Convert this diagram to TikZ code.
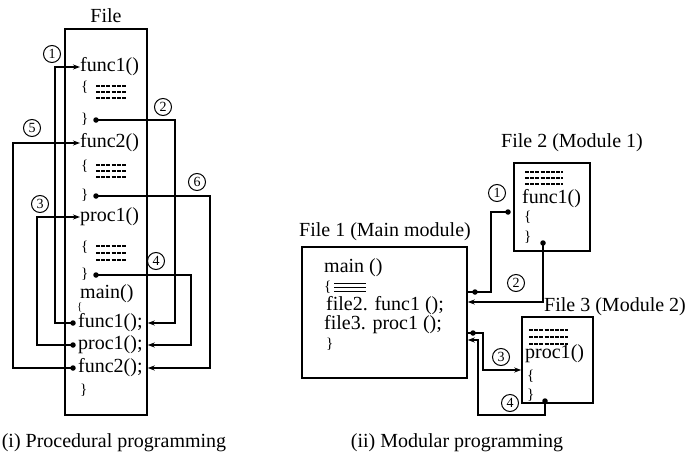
\documentclass[tikz,border=0pt]{standalone}
\usepackage{fontspec}
\setmainfont{Liberation Serif}
\usetikzlibrary{arrows.meta}
\begin{document}
\begin{tikzpicture}[x=1pt,y=-1pt,
  txt/.style={anchor=west,inner sep=0pt,font=\fontsize{20}{22}\selectfont},
  lbl/.style={inner sep=0pt,font=\fontsize{20}{22}\selectfont},
  brc/.style={anchor=west,inner sep=0pt,font=\fontsize{15}{16}\selectfont},
  num/.style={circle,draw,line width=1pt,inner sep=0pt,minimum size=17pt,font=\fontsize{14}{14}\selectfont},
  dot/.style={circle,fill,inner sep=0pt,minimum size=5.5pt},
  conn/.style={line width=1.3pt},
  arr/.style={conn,-{Stealth[length=7pt,width=5pt]}},
  filebox/.style={draw,line width=1.5pt,inner sep=0pt},
  eqline/.style={line width=1.1pt,dash pattern=on 4pt off 1.2pt}]
\useasboundingbox (0,0) rectangle (687,460);

% ---------------- (i) Procedural programming ----------------
\node[filebox,minimum width=82pt,minimum height=386pt] (F) at (106,222) {};
\node[lbl] (Flbl) at (106,16) {File};

\node[txt] (f1) at (80,67) {func1()};
\node[brc] at (81,87) {\{};
\foreach \y in {86,92,98} \draw[eqline] (96,\y) -- (127,\y);
\node[brc] (e1) at (81,119) {\}};
\node[dot] (d2) at (96,120) {};

\node[txt] (f2) at (80,143) {func2()};
\node[brc] at (81,166) {\{};
\foreach \y in {165,171,177} \draw[eqline] (96,\y) -- (127,\y);
\node[brc] (e2) at (81,195) {\}};
\node[dot] (d6) at (96,196) {};

\node[txt] (p1) at (80,217) {proc1()};
\node[brc] at (81,247) {\{};
\foreach \y in {246,253,260} \draw[eqline] (96,\y) -- (127,\y);
\node[brc] (e3) at (81,274) {\}};
\node[dot] (d4) at (96,275) {};

\node[txt] (mn) at (80,294) {main()};
\node[brc,font=\fontsize{11}{12}\selectfont] at (77,307) {\{};
\node[txt] (c1) at (78,323) {func1();};
\node[txt] (c2) at (78,345) {proc1();};
\node[txt] (c3) at (78,368) {func2();};
\node[brc] at (80,390) {\}};
\node[dot] (s1) at (73,323) {};
\node[dot] (s3) at (73,345) {};
\node[dot] (s5) at (73,368) {};

\draw[arr] (s1.center) -- (55,323) |- (f1.west);
\draw[arr] (d2.center) -- (175,120) |- (F.east |- c1.west);
\draw[arr] (s3.center) -- (37,345) |- (p1.west);
\draw[arr] (d4.center) -- (191,275) |- (F.east |- c2.west);
\draw[arr] (s5.center) -- (13,368) |- (f2.west);
\draw[arr] (d6.center) -- (210,196) |- (F.east |- c3.west);

\node[num] (n1) at (52,54) {1};
\node[num] (n2) at (163,107) {2};
\node[num] (n3) at (40,204) {3};
\node[num] (n4) at (156,261) {4};
\node[num] (n5) at (32,128) {5};
\node[num] (n6) at (197,182) {6};

\node[lbl] (cap1) at (114,443) {(i) Procedural programming};

% ---------------- (ii) Modular programming ----------------
\node[filebox,minimum width=165pt,minimum height=131pt] (M) at (384.5,312.5) {};
\node[lbl] (Mlbl) at (385,232) {File 1 (Main module)};
\node[txt] (mm) at (324,268) {main ()};
\node[brc] at (324,287) {\{};
\foreach \y in {283,287,291} \draw[line width=0.9pt] (334,\y) -- (366,\y);
\node[txt] (mf2) at (326,306) {file2. func1 ();};
\node[txt] (mf3) at (324,325) {file3. proc1 ();};
\node[brc] at (326,344) {\}};

\node[filebox,minimum width=76pt,minimum height=88pt] (A) at (552,207) {};
\node[lbl] (Albl) at (572,143) {File 2 (Module 1)};
\foreach \y in {172,178,184} \draw[eqline] (525,\y) -- (563,\y);
\node[txt] (af) at (522,199) {func1()};
\node[brc] at (524,217) {\{};
\node[brc] at (524,237) {\}};

\node[filebox,minimum width=71pt,minimum height=86pt] (B) at (557.5,360) {};
\node[lbl,anchor=west] (Blbl) at (544,307) {File 3 (Module 2)};
\foreach \y in {330,337,344} \draw[eqline] (529,\y) -- (568,\y);
\node[txt] (bp) at (525,354) {proc1()};
\node[brc] at (527,376) {\{};
\node[brc] at (527,395) {\}};

\node[dot] (r1s) at (475,292) {};
\node[dot] (r1e) at (508,212) {};
\node[dot] (r2s) at (543,243) {};
\node[dot] (r3s) at (473,333) {};
\node[dot] (r4s) at (545,401) {};
\coordinate (y1) at (0,292);
\coordinate (y2) at (0,302);
\coordinate (y3) at (0,333);
\coordinate (y3b) at (0,370);
\coordinate (y4) at (0,340);

\draw[conn] (M.east |- y1) -- (491,292) |- (r1e.center);
\draw[arr] (r2s.center) -- (543,302) -- (M.east |- y2);
\draw[arr] (M.east |- y3) -- (483,333) |- (B.west |- y3b);
\draw[arr] (r4s.center) -- (545,415) -| (478,340) -- (M.east |- y4);

\node[num] (m1) at (497,193) {1};
\node[num] (m2) at (516,283) {2};
\node[num] (m3) at (501,357) {3};
\node[num] (m4) at (510,403) {4};

\node[lbl] (cap2) at (457,443) {(ii) Modular programming};
\end{tikzpicture}
\end{document}
